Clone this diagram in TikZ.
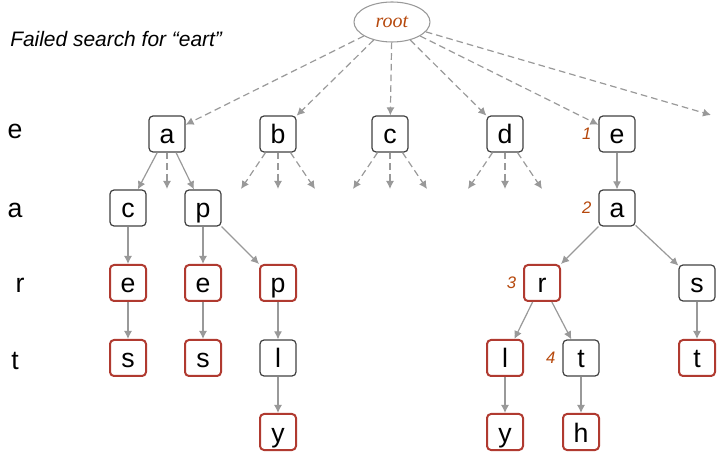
\documentclass[tikz,border=0pt]{standalone}
\usepackage{fontspec}
\setmainfont{Liberation Sans}
\newfontfamily\rootfont{Liberation Serif}
\usetikzlibrary{positioning,shapes,arrows.meta}

\definecolor{edgegray}{RGB}{153,153,153}
\definecolor{boxgray}{RGB}{64,64,64}
\definecolor{wordred}{RGB}{176,58,48}
\definecolor{steporange}{RGB}{182,72,12}

\tikzset{
  letter/.style={draw=boxgray,line width=0.9pt,rounded corners=3pt,minimum size=27pt,inner sep=0pt,
    font=\fontsize{20}{20}\selectfont,text height=17pt,text depth=2pt},
  word/.style={letter,draw=wordred,line width=1.5pt},
  edge/.style={draw=edgegray,line width=0.9pt,-{Latex[length=6pt,width=6pt]}},
  stub/.style={edge,dash pattern=on 5pt off 3pt},
  stepno/.style={text=steporange,font=\fontsize{12.5}{12.5}\selectfont\itshape,inner sep=0pt}
}

\begin{document}
\begin{tikzpicture}[x=0.75pt,y=-0.75pt]
\useasboundingbox (0,0) rectangle (718,452);

\node[ellipse,draw=edgegray,line width=0.8pt,minimum width=57pt,minimum height=30pt,text=steporange,
  font=\rootfont\fontsize{15}{15}\selectfont\itshape] (root) at (392,22) {root};
\node[anchor=base west,inner sep=0pt,font=\fontsize{15.7}{16}\selectfont\itshape] (title) at (10,47) {Failed search for “eart”};

\foreach \l/\x/\y in {e/15/129, a/15/208, r/20/283, t/15/360} {
    \node[inner sep=0pt,font=\fontsize{20}{20}\selectfont,text height=17pt,text depth=2pt] (row\l) at (\x,\y) {\l};
}

\foreach \n/\x in {a/167, b/278, c/390, d/505, e/617} {
    \node[letter] (\n) at (\x,134) {\n};
}

\foreach \n/\s/\x/\y/\t in {ac/letter/128/208/c, ap/letter/203/208/p, ea/letter/617/208/a,
    ace/word/128/283/e, ape/word/203/283/e, app/word/278/283/p, ear/word/542/283/r, eas/letter/697/283/s,
    aces/word/128/358/s, apes/word/203/358/s, appl/letter/278/358/l, earl/word/505/358/l, eart/letter/581/358/t, east/word/697/358/t,
    apply/word/278/432/y, early/word/505/432/y, earth/word/581/432/h} {
    \node[\s] (\n) at (\x,\y) {\t};
}

\foreach \f/\t in {a/ac, a/ap, ac/ace, ace/aces, ap/ape, ape/apes, ap/app, app/appl, appl/apply,
    e/ea, ea/ear, ea/eas, ear/earl, ear/eart, earl/early, eart/earth, eas/east} {
    \draw[edge] (\f) -- (\t);
}

\foreach \t in {a,b,c,d,e} {
    \draw[stub] (root) -- (\t);
}
\coordinate (more) at (711,115);
\draw[stub] (root) -- (more);

\coordinate (a-m) at (167,189);
\draw[stub] (a) -- (a-m);
\foreach \n/\x in {b/278, c/390, d/505} {
    \coordinate (\n-l) at (\x-37,189);
    \coordinate (\n-m) at (\x,189);
    \coordinate (\n-r) at (\x+37,189);
    \foreach \s in {l,m,r} \draw[stub] (\n) -- (\n-\s);
}

\foreach \k/\n in {1/e, 2/ea, 3/ear, 4/eart} {
    \node[stepno,left=5pt of \n] (step\k) {\k};
}
\end{tikzpicture}
\end{document}
